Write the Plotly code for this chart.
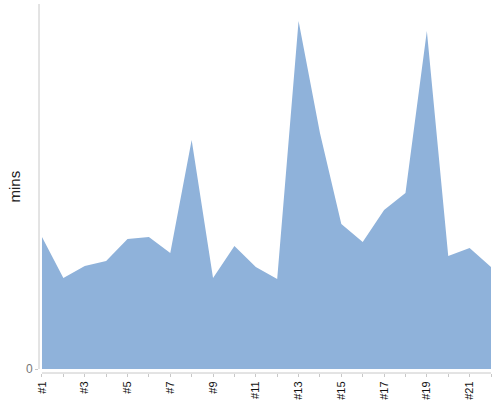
import plotly.graph_objects as go

categories = ["#%d" % i for i in range(1, 23)]
mins = [13.2, 9.1, 10.3, 10.8, 13.0, 13.2, 11.6, 22.9, 9.1, 12.3, 10.2,
        9.0, 34.8, 23.6, 14.5, 12.7, 15.9, 17.6, 33.8, 11.3, 12.1, 10.2]
tick_text = [c if i % 2 == 0 else "" for i, c in enumerate(categories)]

idx = list(range(len(categories)))
fill_color = "rgb(143,178,218)"
axis_color = "#c8c8c8"

L, R, T, B = 39, 9, 4, 27
W, H = 500, 400
pw, ph = W - L - R, H - T - B

fig = go.Figure()
fig.add_trace(go.Scatter(
    x=idx, y=mins, mode="lines", fill="tozeroy",
    line=dict(width=0, color=fill_color), fillcolor=fill_color,
    hoverinfo="skip", showlegend=False,
))

fig.update_layout(
    width=W, height=H,
    margin=dict(l=L, r=R, t=T, b=B, autoexpand=False),
    paper_bgcolor="white", plot_bgcolor="white",
    font=dict(family="Liberation Sans, Arial, sans-serif", color="#333", size=11),
    xaxis=dict(
        range=[-0.14, 21], tickvals=idx, ticktext=tick_text, tickangle=-90,
        ticks="outside", ticklen=3, tickcolor=axis_color, showgrid=False,
        zeroline=False, showline=False, tickfont=dict(size=11, color="#111"),
        automargin=False, fixedrange=True,
    ),
    yaxis=dict(
        range=[-0.4, 36.5], tickvals=[0], ticktext=["0"], ticks="outside",
        ticklen=3, tickcolor=axis_color, showgrid=False, zeroline=False,
        showline=False, tickfont=dict(size=12, color="#777"),
        automargin=False, fixedrange=True,
    ),
    shapes=[
        dict(type="line", xref="paper", yref="y", x0=0, x1=0, y0=0, y1=36.5,
             line=dict(color=axis_color, width=1), layer="above"),
        dict(type="line", xref="x", yref="paper", x0=0, x1=21, y0=0, y1=0,
             line=dict(color=axis_color, width=1), layer="above"),
    ],
    annotations=[
        dict(text="mins", textangle=-90, showarrow=False,
             xref="paper", yref="paper",
             x=(13.5 - L) / pw, y=(H - B - 187) / ph,
             xanchor="center", yanchor="middle",
             font=dict(size=15, color="#222")),
    ],
)

fig.write_html("out.html", config={"displayModeBar": False},
               post_script="document.body.style.margin='0';")
